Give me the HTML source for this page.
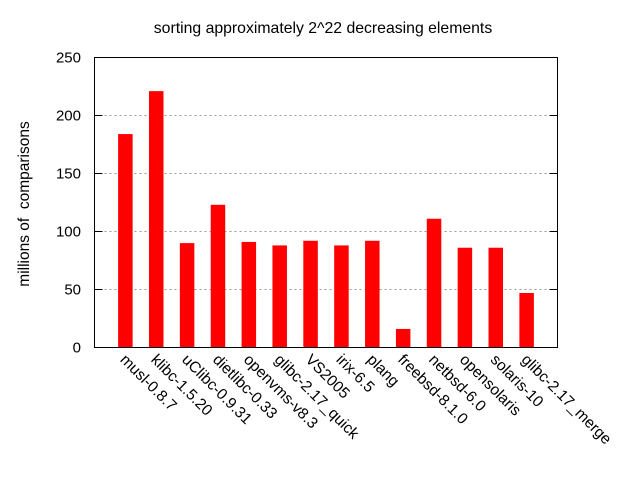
<!DOCTYPE html>
<html><head><meta charset="utf-8"><style>
body{margin:0;background:#fff;}
svg text{font-family:"Liberation Sans",sans-serif;fill:#000;}
</style></head><body>
<svg id="chart" width="640" height="480" xmlns="http://www.w3.org/2000/svg">
<rect width="640" height="480" fill="#fff"/>
<text x="323" y="33" font-size="15.8" text-anchor="middle">sorting approximately 2^22 decreasing elements</text>
<text transform="translate(29,204) rotate(-90)" font-size="15.5" text-anchor="middle">millions of&#160; comparisons</text>
<g id="grid"></g>
<g id="bars"></g>
<rect x="94.5" y="57.5" width="463" height="290" fill="none" stroke="#000" stroke-width="1"/>
<g id="ticks"></g>
<g id="labels"></g>
</svg>
<script>
const categories=["musl-0.8.7","klibc-1.5.20","uClibc-0.9.31","dietlibc-0.33","openvms-v8.3","glibc-2.17_quick","VS2005","irix-6.5","plang","freebsd-8.1.0","netbsd-6.0","opensolaris","solaris-10","glibc-2.17_merge"];
const values=[184,221,90,123,91,88,92,88,92,16,111,86,86,47];
const yTicks=[0,50,100,150,200,250];
const NS="http://www.w3.org/2000/svg";
const L=94.5,R=557.5,T=57.5,B=347.5;
const yMax=250;
function ys(v){return B-(v/yMax)*(B-T);}
function xs(i){return L+(i+1)*(R-L)/(categories.length+1);}
function mk(tag,attrs,parent){const e=document.createElementNS(NS,tag);for(const k in attrs)e.setAttribute(k,attrs[k]);document.getElementById(parent).appendChild(e);return e;}
yTicks.forEach(t=>{
  const y=ys(t);
  if(t>0&&t<yMax){const g=mk('line',{x1:L,x2:R,y1:y,y2:y,stroke:'#999','stroke-dasharray':'2,3','stroke-width':1},'grid');
  
  }
  const a=mk('line',{x1:L,x2:L+8,y1:y,y2:y,stroke:'#000'},'ticks');
  
  
  const b=mk('line',{x1:R-8,x2:R,y1:y,y2:y,stroke:'#000'},'ticks');
  
  
  const tx=mk('text',{x:81,y:y+5,'font-size':15,'text-anchor':'end'},'ticks');
  tx.textContent=t;
  
  
});
values.forEach((v,i)=>{
  const cx=xs(i),w=14.5;
  const r=mk('rect',{x:cx-w/2,y:ys(v),width:w,height:B-ys(v),fill:'#ff0000'},'bars');
  
  
  const t=mk('text',{transform:`translate(${cx-6},${B+13}) rotate(45)`,'font-size':15.5},'labels');
  t.textContent=categories[i];
  
  
});
</script>
</body></html>
